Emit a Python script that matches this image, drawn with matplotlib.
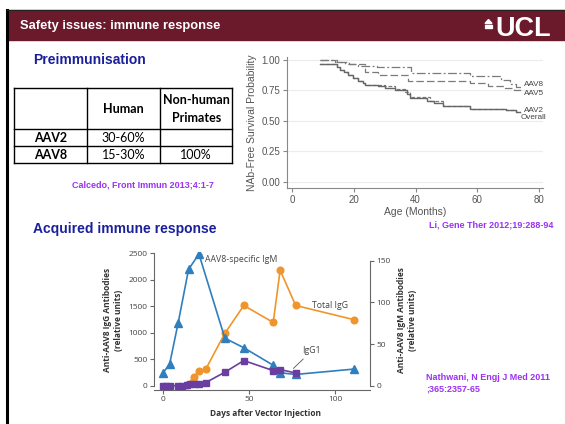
import matplotlib
matplotlib.use("Agg")
import matplotlib.pyplot as plt
from matplotlib.patches import Rectangle, Polygon

# ---------------- data ----------------
table_header = ["", "Human", "Non-human\nPrimates"]
table_rows = ["AAV2", "AAV8"]
table_human = ["30-60%", "15-30%"]
table_nhp = ["", "100%"]

km_months_aav8 = [9, 14.4, 18.5, 21.4, 27.5, 38.5, 57.6, 67.8, 70.5, 72.5, 74.5]
km_surv_aav8 = [1.00, 0.98, 0.965, 0.95, 0.94, 0.89, 0.865, 0.835, 0.80, 0.78, 0.78]
km_months_aav5 = [9, 13.8, 17, 23.5, 27.8, 37.5, 57.6, 63.6, 69, 72, 74.5]
km_surv_aav5 = [1.0, 0.98, 0.965, 0.905, 0.88, 0.83, 0.81, 0.79, 0.77, 0.753, 0.753]
km_months_overall = [9, 14.4, 15.5, 16.8, 18.2, 19.8, 21.4, 22.8, 23.6, 27.9, 30.1, 33.3,
                     37.1, 38.2, 43.8, 46, 49, 57.5, 69.3, 72.5, 74]
km_surv_overall = [0.967, 0.945, 0.92, 0.90, 0.877, 0.855, 0.83, 0.81, 0.795, 0.785, 0.767,
                   0.75, 0.72, 0.685, 0.665, 0.645, 0.625, 0.598, 0.59, 0.575, 0.575]
km_months_aav2 = [9, 14.4, 15.5, 16.8, 18.2, 19.8, 21.4, 22.8, 23.6, 30.1, 33.3, 36.5,
                  38.2, 44.6, 49, 57.5, 69.3, 72.5, 74]
km_surv_aav2 = [0.967, 0.945, 0.92, 0.90, 0.877, 0.855, 0.83, 0.81, 0.795, 0.785, 0.765,
                0.74, 0.70, 0.66, 0.625, 0.598, 0.59, 0.575, 0.575]
km_labels = ["AAV8", "AAV5", "AAV2", "Overall"]
km_label_y = [0.80, 0.728, 0.589, 0.527]

days_igm = [0, 4, 9, 15, 21, 36, 47, 64, 68, 77, 111]
igm = [15, 25.5, 75.5, 139.5, 158, 57, 45.5, 24.5, 15.5, 13.5, 20]
days_total = [14, 18, 21, 25, 36, 47, 64, 68, 77, 111]
total_igg = [10, 165, 280, 315, 990, 1515, 1195, 2180, 1515, 1245]
days_igg1 = [0, 2, 4, 9, 11, 14, 16, 19, 21, 25, 36, 47, 64, 68, 77]
igg1 = [0, 0, 0, 0, 0, 5, 30, 30, 25, 60, 255, 475, 285, 305, 240]

W, H = 565, 424
fig = plt.figure(figsize=(W / 100, H / 100), dpi=100)

def fa(l, t, r, b):
    return [l / W, (H - b) / H, (r - l) / W, (b - t) / H]

bg = fig.add_axes([0, 0, 1, 1], zorder=0)
bg.set_xlim(0, W)
bg.set_ylim(H, 0)
bg.axis("off")

maroon = "#6b1a2c"
navy = "#1a1f9c"
violet = "#9a32f2"

# header
bg.add_patch(Rectangle((7, 10), W - 7, 30, color=maroon, zorder=1))
bg.plot([7, 7], [10, H], color="black", lw=2.2, zorder=2)
bg.plot([7, W], [10, 10], color="#222222", lw=0.8, zorder=2)
bg.text(20, 26, "Safety issues: immune response", color="white", fontsize=9.3,
        fontweight="bold", family="Liberation Sans", va="center", ha="left")
bg.text(495, 29.5, "UCL", color="white", fontsize=19.5, fontweight="bold",
        family="Liberation Sans", va="center", ha="left")
bg.add_patch(Polygon([(485, 23.5), (488.5, 19.5), (492, 23.5)], color="white", zorder=3))
bg.add_patch(Rectangle((485, 24.5), 7, 1.3, color="white", zorder=3))
bg.add_patch(Rectangle((485, 26.6), 7, 1.3, color="white", zorder=3))

# section titles
bg.text(33, 60, "Preimmunisation", color=navy, fontsize=10, fontweight="bold",
        family="Liberation Sans", va="center")
bg.text(33, 229, "Acquired immune response", color=navy, fontsize=10, fontweight="bold",
        family="Liberation Sans", va="center")

# table
xs = [14.3, 87.3, 160, 232.3]
ys = [87.7, 129.3, 146.3, 163.3]
for x in xs:
    bg.plot([x, x], [ys[0], ys[-1]], color="black", lw=1.0, zorder=2)
for y in ys:
    bg.plot([xs[0], xs[-1]], [y, y], color="black", lw=1.0, zorder=2)
tf = dict(family="Lato", fontsize=9, va="center", ha="center", color="black")
for j, h in enumerate(table_header):
    bg.text((xs[j] + xs[j + 1]) / 2, (ys[0] + ys[1]) / 2 + 0.5, h, fontweight="bold",
            linespacing=1.5, **tf)
for i, r in enumerate(table_rows):
    yc = (ys[i + 1] + ys[i + 2]) / 2 + 0.5
    bg.text((xs[0] + xs[1]) / 2, yc, r, fontweight="bold", **tf)
    bg.text((xs[1] + xs[2]) / 2, yc, table_human[i], **tf)
    bg.text((xs[2] + xs[3]) / 2, yc, table_nhp[i], **tf)

cf = dict(color=violet, fontsize=6.5, fontweight="bold", family="Liberation Sans")
bg.text(72, 185, "Calcedo, Front Immun 2013;4:1-7", va="center", ha="left", **cf)
bg.text(553, 225, "Li, Gene Ther 2012;19:288-94", va="center", ha="right", **cf)
bg.text(426, 383, "Nathwani, N Engj J Med 2011\n;365:2357-65", va="center", ha="left",
        linespacing=1.35, **cf)

# ---------------- KM plot ----------------
km = fig.add_axes(fa(287, 57, 543, 187.7), zorder=2)
km.set_facecolor("none")
km.set_xlim(-1.72, 81.3)
km.set_ylim(-0.049, 1.025)
for yv in [0, 0.25, 0.5, 0.75, 1.0]:
    km.axhline(yv, color="#ececec", lw=0.8, zorder=0)
gray = "#7a7a7a"
km.step(km_months_aav8, km_surv_aav8, where="post", color=gray, lw=0.9, dashes=(7, 2, 1.5, 2))
km.step(km_months_aav5, km_surv_aav5, where="post", color=gray, lw=0.9, dashes=(6, 2.5))
km.step(km_months_aav2, km_surv_aav2, where="post", color=gray, lw=0.9, dashes=(3, 1.5))
km.step(km_months_overall, km_surv_overall, where="post", color="#666666", lw=1.0)
for lab, yv in zip(km_labels, km_label_y):
    km.text(75.1 if lab != "Overall" else 74.2, yv, lab, fontsize=5.9, color="#444444",
            family="Liberation Sans", va="center", ha="left")
for s in ["top", "right"]:
    km.spines[s].set_visible(False)
for s in ["left", "bottom"]:
    km.spines[s].set_color("#888888")
    km.spines[s].set_linewidth(0.8)
km.set_xticks([0, 20, 40, 60, 80])
km.set_yticks([0, 0.25, 0.5, 0.75, 1.0])
km.set_yticklabels(["0.00", "0.25", "0.50", "0.75", "1.00"])
km.tick_params(labelsize=7, colors="#888888", labelcolor="#555555", length=3, width=0.8, pad=2)
for t in km.get_xticklabels() + km.get_yticklabels():
    t.set_family("Liberation Sans")
km.set_xlabel("Age (Months)", fontsize=7.5, color="#555555", family="Liberation Sans", labelpad=2)
km.set_ylabel("NAb-Free Survival Probability", fontsize=7.5, color="#555555",
              family="Liberation Sans", labelpad=3)

# ---------------- antibody plot ----------------
ax = fig.add_axes(fa(154, 252, 370, 390), zorder=2)
ax.set_facecolor("none")
ax2 = ax.twinx()
ax.set_xlim(-5, 120)
ax.set_ylim(-81, 2525)
ax2.set_ylim(-5.16, 160.4)
ax2.set_zorder(1)
ax.set_zorder(3)

orange = "#f0952c"
blue = "#2f7fbf"
purple = "#6a3ea0"
ax.plot(days_total, total_igg, color=orange, lw=1.2, marker="o", ms=4.8, zorder=2)
ax.plot(days_igm, igm, color=blue, lw=1.2, marker="^", ms=5.2, zorder=3,
        transform=ax2.transData)
ax.plot(days_igg1, igg1, color=purple, lw=1.2, marker="s", ms=4.8, zorder=4)

ax2.set_yticks([0, 50, 100, 150])
ax.set_yticks([0, 500, 1000, 1500, 2000, 2500])
ax.set_xticks([0, 50, 100])
ax.spines["top"].set_visible(False)
ax.spines["right"].set_visible(False)
ax2.spines["top"].set_visible(False)
ax2.spines["left"].set_visible(False)
ax2.spines["bottom"].set_visible(False)
ax.spines["left"].set_bounds(0, 2500)
ax2.spines["right"].set_bounds(0, 150)
for s in [ax.spines["left"], ax.spines["bottom"], ax2.spines["right"]]:
    s.set_color("#666666")
    s.set_linewidth(0.8)
for a in (ax, ax2):
    a.tick_params(labelsize=6, colors="#666666", labelcolor="#444444", length=3, width=0.8, pad=1.5)
    for t in a.get_xticklabels() + a.get_yticklabels():
        t.set_family("Open Sans")

lf = dict(fontsize=6, fontweight="bold", family="Open Sans", color="#333333")
bg.text(113, 320, "Anti-AAV8 IgG Antibodies\n(relative units)", rotation=90, ha="center",
        va="center", linespacing=1.2, **lf)
bg.text(407, 320, "Anti-AAV8 IgM Antibodies\n(relative units)", rotation=90, ha="center",
        va="center", linespacing=1.2, **lf)
bg.text(265.7, 413, "Days after Vector Injection", ha="center", va="center", **lf)

af = dict(fontsize=6.3, family="Open Sans", color="#444444")
ax2.annotate("AAV8-specific IgM", xy=(21, 158), xytext=(24.5, 152), ha="left", va="center",
             arrowprops=dict(arrowstyle="-", color="#555555", lw=0.6, shrinkA=0, shrinkB=3), **af)
ax.text(86.6, 1524, "Total IgG", ha="left", va="center", **af)
ax.annotate("IgG1", xy=(74.5, 290), xytext=(81, 660), ha="left", va="center",
            arrowprops=dict(arrowstyle="-", color="#555555", lw=0.6, shrinkA=1, shrinkB=2), **af)

fig.savefig("out.png", dpi=100)
